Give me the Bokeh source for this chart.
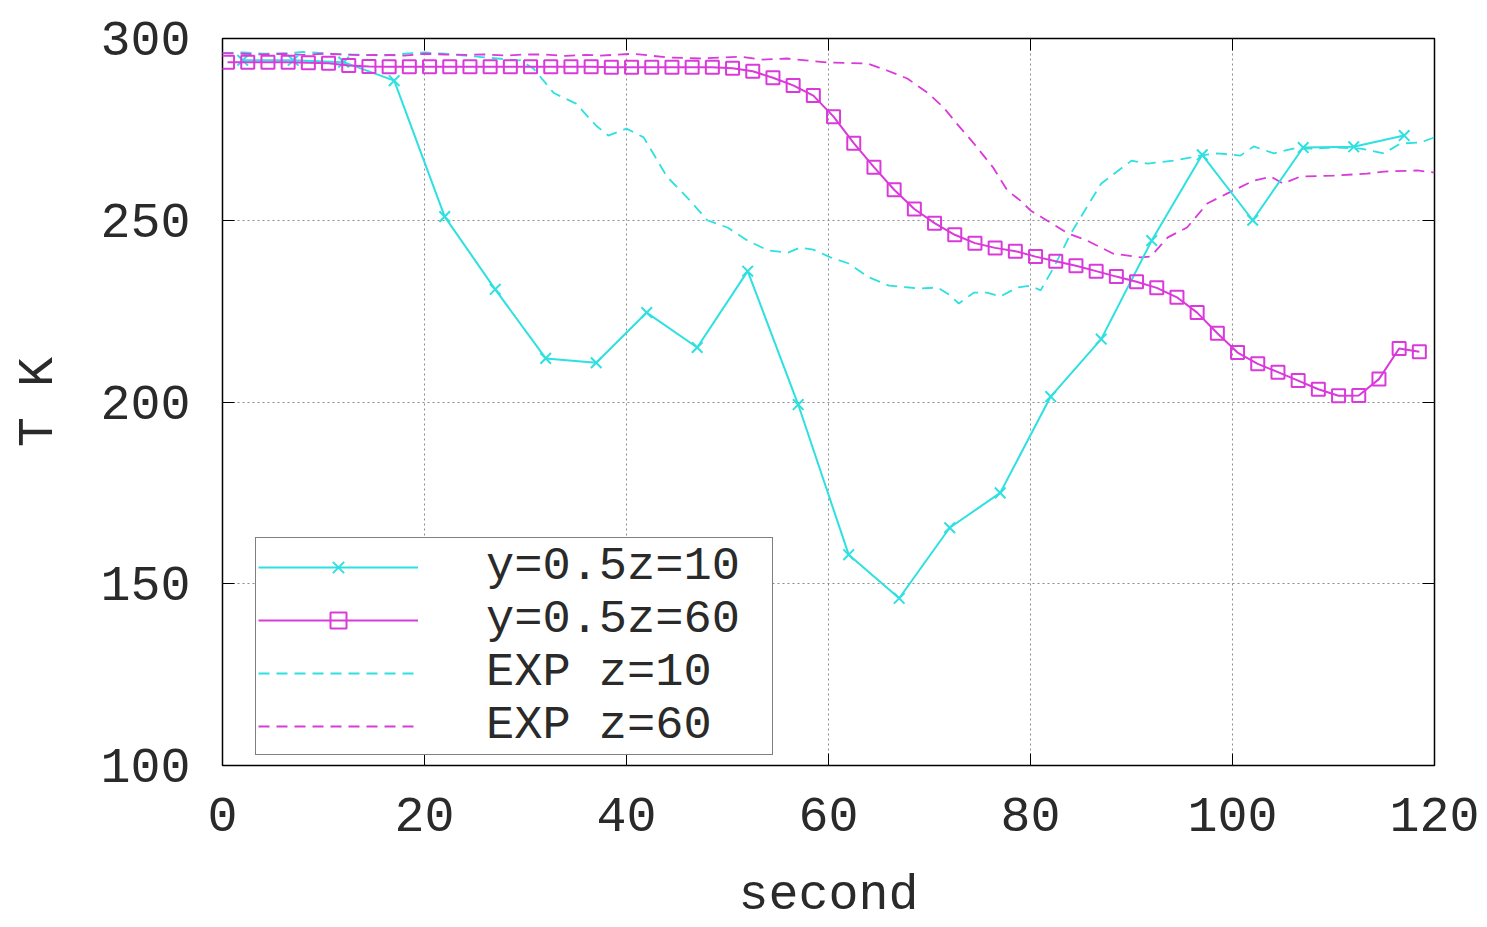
from bokeh.plotting import figure
from bokeh.models import Range1d, LinearAxis, Legend, LegendItem, FixedTicker
from bokeh.embed import file_html
from bokeh.resources import INLINE

# ---- data ----
sim10_x = [2, 7, 12, 17, 22, 27, 32, 37, 42, 47, 52, 57, 62, 67, 72, 77, 82, 87, 92, 97, 102, 107, 112, 117]
sim10_y = [294.0, 294.0, 293.5, 288.4, 251.0, 231.0, 212.0, 210.8, 224.6, 215.0, 236.0, 199.3,
           158.0, 146.0, 165.4, 175.0, 201.5, 217.3, 244.4, 268.0, 250.0, 270.0, 270.2, 273.3]

sim60_x = [0.5, 2.5, 4.5, 6.5, 8.5, 10.5, 12.5, 14.5, 16.5, 18.5, 20.5, 22.5, 24.5, 26.5, 28.5,
           30.5, 32.5, 34.5, 36.5, 38.5, 40.5, 42.5, 44.5, 46.5, 48.5, 50.5, 52.5, 54.5, 56.5, 58.5,
           60.5, 62.5, 64.5, 66.5, 68.5, 70.5, 72.5, 74.5, 76.5, 78.5, 80.5, 82.5, 84.5, 86.5, 88.5,
           90.5, 92.5, 94.5, 96.5, 98.5, 100.5, 102.5, 104.5, 106.5, 108.5, 110.5, 112.5, 114.5, 116.5, 118.5]
sim60_y = [293.5, 293.5, 293.5, 293.5, 293.3, 293.2, 292.6, 292.3, 292.2, 292.2, 292.2, 292.2, 292.2, 292.2, 292.2,
           292.2, 292.2, 292.2, 292.2, 292.1, 292.1, 292.1, 292.1, 292.1, 292.1, 291.8, 291.0, 289.2, 287.1, 284.3,
           278.5, 271.2, 264.6, 258.4, 253.1, 249.2, 246.0, 243.7, 242.4, 241.5, 240.0, 238.7, 237.5, 236.0, 234.5,
           233.1, 231.4, 228.8, 224.6, 218.9, 213.6, 210.5, 208.2, 205.9, 203.5, 201.7, 201.8, 206.3, 214.7, 213.8]

exp10_x = [0, 2, 4, 6, 8, 10, 12, 14, 16, 18, 20, 22, 24, 26, 28, 29.5, 30.8, 32.8, 35, 37, 38.2, 40,
           41.7, 44, 46.3, 48, 50, 52, 54, 56, 57.2, 58.5, 60.2, 62, 64, 66, 68, 69, 70.8, 71.8, 72.9,
           74.4, 75.7, 77, 78.7, 80, 81, 82.3, 84, 87, 90, 91.6, 94.2, 96.8, 98.5, 100.8, 102.1, 104.1,
           106, 108, 110, 112.7, 115, 116.6, 118.6, 120]
exp10_y = [296.0, 296.2, 295.8, 295.9, 296.3, 296.0, 295.6, 295.5, 295.3, 295.8, 296.2, 295.8, 295.3, 294.8,
           294.3, 294.0, 291.7, 285.0, 282.1, 276.0, 273.3, 275.2, 272.8, 262.0, 255.4, 250.0, 248.0, 244.4,
           241.7, 241.1, 242.5, 241.9, 239.8, 238.1, 234.3, 232.0, 231.5, 231.2, 231.5, 229.8, 227.1, 230.1,
           230.1, 229.0, 231.5, 232.0, 230.7, 237.0, 246.4, 260.1, 266.4, 265.6, 266.4, 267.8, 268.4, 267.8,
           270.3, 268.4, 269.7, 269.7, 270.0, 269.7, 268.4, 271.1, 271.4, 272.8]

exp60_x = [0, 2, 4, 6, 8, 10, 12, 14, 16, 18, 20, 22, 24, 26, 28, 30, 32, 34, 36, 37.4, 40.7, 44, 47.3,
           51.3, 53.3, 55.9, 59.9, 63.9, 65.8, 67.8, 69.8, 71.4, 72.7, 74.4, 76.3, 77.7, 79, 80, 81.3,
           83.7, 85.6, 88.2, 90.9, 91.9, 93.6, 95.5, 97.5, 99.5, 102.1, 103.8, 105, 106.7, 110, 113.3,
           115, 118.3, 120]
exp60_y = [296.0, 295.8, 295.6, 295.8, 295.5, 295.8, 295.6, 295.4, 295.5, 295.3, 295.8, 295.6, 295.5,
           295.6, 295.3, 295.6, 295.6, 295.2, 295.5, 295.3, 295.8, 294.8, 294.5, 295.0, 294.2, 294.5,
           293.4, 293.1, 291.2, 289.0, 285.1, 281.0, 276.6, 271.1, 264.5, 258.2, 255.4, 252.7, 250.5,
           246.4, 244.4, 240.8, 239.8, 240.0, 245.3, 248.0, 254.6, 257.4, 260.9, 262.0, 260.1, 262.0,
           262.3, 262.8, 263.4, 263.7, 263.1]

labels = ["y=0.5z=10", "y=0.5z=60", "EXP z=10", "EXP z=60"]
x_ticks = [0, 20, 40, 60, 80, 100, 120]
y_ticks = [100, 150, 200, 250, 300]

CYAN = "#2ee0e0"
MAGENTA = "#d93ad9"
FONT = "Liberation Mono"
FS = "50px"
TXT = "#2a2a2a"

p = figure(width=1487, height=927, output_backend="svg", toolbar_location=None,
           x_range=Range1d(0, 120), y_range=Range1d(100, 300),
           min_border_left=222, min_border_right=53, min_border_top=38, min_border_bottom=162)
p.background_fill_color = "white"
p.border_fill_color = "white"
p.outline_line_color = "black"
p.outline_line_width = 1.5

for ax, ticks in ((p.xaxis[0], x_ticks), (p.yaxis[0], y_ticks)):
    ax.ticker = FixedTicker(ticks=ticks)
    ax.major_tick_in = 12
    ax.major_tick_out = 0
    ax.minor_tick_line_color = None
    ax.axis_line_color = None
    ax.major_tick_line_color = "black"
    ax.major_label_text_font = FONT
    ax.major_label_text_font_size = FS
    ax.major_label_text_color = TXT
    ax.axis_label_text_font = FONT
    ax.axis_label_text_font_size = FS
    ax.axis_label_text_font_style = "normal"
    ax.axis_label_text_color = TXT

p.xaxis[0].axis_label = "second"
p.xaxis[0].major_label_standoff = 32
p.xaxis[0].axis_label_standoff = 33
p.yaxis[0].axis_label = "T K"
p.yaxis[0].major_label_standoff = 32
p.yaxis[0].axis_label_standoff = 30

# mirrored ticks on top and right (gnuplot style), no labels drawn
top = LinearAxis(ticker=FixedTicker(ticks=x_ticks), major_tick_in=12, major_tick_out=0,
                 minor_tick_line_color=None, axis_line_color=None,
                 major_label_text_color=None, major_label_standoff=0)
right = LinearAxis(ticker=FixedTicker(ticks=y_ticks), major_tick_in=12, major_tick_out=0,
                   minor_tick_line_color=None, axis_line_color=None,
                   major_label_text_color=None, major_label_standoff=0)
p.add_layout(top, "above")
p.add_layout(right, "right")

for g in (p.xgrid[0], p.ygrid[0]):
    g.grid_line_color = "#8c8c8c"
    g.grid_line_dash = "2 3"
    g.grid_line_width = 1
p.xgrid[0].ticker = FixedTicker(ticks=x_ticks)
p.ygrid[0].ticker = FixedTicker(ticks=y_ticks)

r_e10 = p.line(exp10_x, exp10_y, line_color=CYAN, line_width=1.8, line_dash="11 7")
r_e60 = p.line(exp60_x, exp60_y, line_color=MAGENTA, line_width=1.8, line_dash="11 7")
r_s10l = p.line(sim10_x, sim10_y, line_color=CYAN, line_width=2)
r_s10m = p.scatter(sim10_x, sim10_y, marker="x", size=15, line_color=CYAN, line_width=2)
r_s60l = p.line(sim60_x, sim60_y, line_color=MAGENTA, line_width=2)
r_s60m = p.scatter(sim60_x, sim60_y, marker="square", size=13, line_color=MAGENTA,
                   fill_color=None, line_width=2)

legend = Legend(items=[
    LegendItem(label=labels[0], renderers=[r_s10l, r_s10m]),
    LegendItem(label=labels[1], renderers=[r_s60l, r_s60m]),
    LegendItem(label=labels[2], renderers=[r_e10]),
    LegendItem(label=labels[3], renderers=[r_e60]),
], location=(33, 10), orientation="vertical",
    border_line_color="black", border_line_width=1.5,
    background_fill_color="white", background_fill_alpha=1.0,
    label_text_font=FONT, label_text_font_size="47px", label_text_color=TXT,
    glyph_width=160, glyph_height=40, label_height=40, label_width=284, label_standoff=68,
    spacing=0, padding=2, margin=0)
p.add_layout(legend, "center")

open("out.html", "w").write(file_html(p, INLINE))
